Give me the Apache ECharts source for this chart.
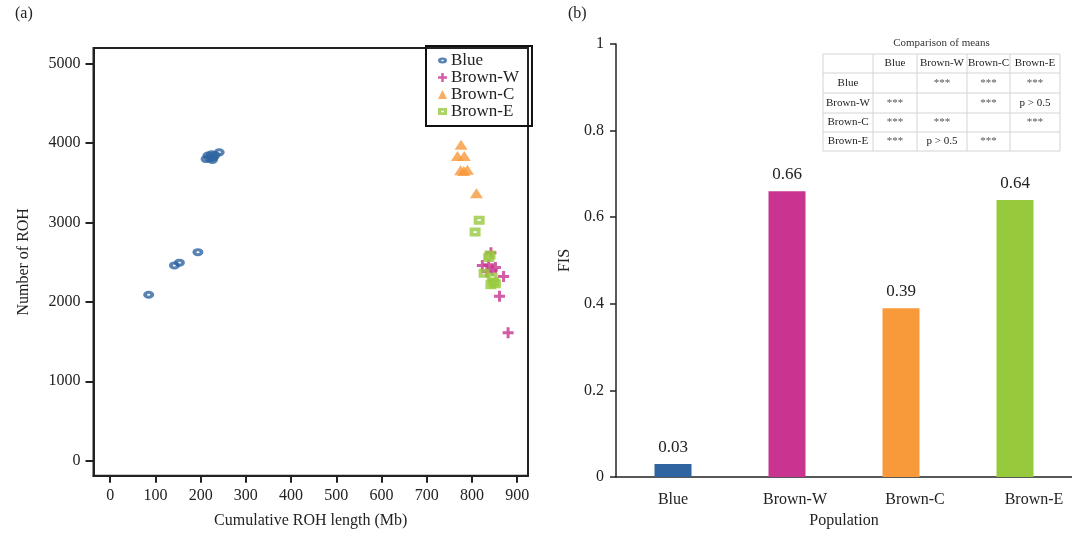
<!DOCTYPE html>
<html>
<head>
<meta charset="utf-8">
<script src="https://cdn.jsdelivr.net/npm/echarts@6/dist/echarts.min.js"></script>
<style>
  html, body { margin: 0; padding: 0; background: #fff; }
  #chart { width: 1072px; height: 536px; }
</style>
</head>
<body>
<div id="chart"></div>
<script>
// ---- Panel (a): cumulative ROH length vs number of ROH ----
const blueROH = [[85, 2090], [142, 2460], [153, 2495], [194, 2627], [212, 3800], [216, 3845], [220, 3810], [224, 3860], [228, 3820], [232, 3850], [226, 3790], [241, 3885]];
const brownWROH = [[842, 2620], [837, 2470], [823, 2460], [852, 2435], [845, 2400], [833, 2380], [870, 2320], [861, 2070], [880, 1612]];
const brownCROH = [[776, 3980], [768, 3840], [783, 3840], [775, 3660], [782, 3650], [790, 3665], [810, 3370]];
const brownEROH = [[816, 3030], [807, 2880], [840, 2590], [837, 2560], [827, 2360], [845, 2310], [848, 2250], [842, 2215], [852, 2230]];
const lengthTicks = [0, 100, 200, 300, 400, 500, 600, 700, 800, 900];
const countTicks = [0, 1000, 2000, 3000, 4000, 5000];

// ---- Panel (b): FIS per population ----
const populations = ['Blue', 'Brown-W', 'Brown-C', 'Brown-E'];
const fisValues = [0.03, 0.66, 0.39, 0.64];

// ---- Comparison-of-means table ----
const tableTitle = 'Comparison of means';
const tableHeader = ['', 'Blue', 'Brown-W', 'Brown-C', 'Brown-E'];
const tableRows = [
  ['Blue', '', '***', '***', '***'],
  ['Brown-W', '***', '', '***', 'p > 0.5'],
  ['Brown-C', '***', '***', '', '***'],
  ['Brown-E', '***', 'p > 0.5', '***', '']
];

const colors = { blue: '#2e64a0', w: '#c8348f', c: '#f8993a', e: '#97c93d' };
const FONT = "'Liberation Serif', 'DejaVu Serif', serif";
const INK = '#222';

// marker outlines: thick ring, bold plus, triangle, square with a slit
const ringPath = 'path://M0,4a6,4 0 1,0 12,0a6,4 0 1,0 -12,0zM4.2,4a1.8,1 0 1,1 3.6,0a1.8,1 0 1,1 -3.6,0z';
const plusPath = 'path://M4,0H7V4H11V7H7V11H4V7H0V4H4Z';
const boxPath = 'path://M0,0H10V8H0ZM3.5,3.2V4.8H6.5V3.2Z';

// table layout
const colEdges = [823, 873, 917, 967, 1010, 1060];
const rowEdges = [54, 73, 93, 113, 132, 151];
const tableGraphics = [];
tableGraphics.push({
  type: 'text', x: (colEdges[0] + colEdges[colEdges.length - 1]) / 2, y: 43,
  style: { text: tableTitle, font: '11px ' + FONT, fill: '#333', align: 'center', verticalAlign: 'middle' }
});
rowEdges.forEach(function (y) {
  tableGraphics.push({ type: 'line', shape: { x1: colEdges[0], y1: y, x2: colEdges[colEdges.length - 1], y2: y }, style: { stroke: '#d4d4d4', lineWidth: 1 } });
});
colEdges.forEach(function (x) {
  tableGraphics.push({ type: 'line', shape: { x1: x, y1: rowEdges[0], x2: x, y2: rowEdges[rowEdges.length - 1] }, style: { stroke: '#d4d4d4', lineWidth: 1 } });
});
[tableHeader].concat(tableRows).forEach(function (row, r) {
  row.forEach(function (cell, c) {
    if (!cell) return;
    tableGraphics.push({
      type: 'text',
      x: (colEdges[c] + colEdges[c + 1]) / 2,
      y: (rowEdges[r] + rowEdges[r + 1]) / 2,
      style: { text: cell, font: '11px ' + FONT, fill: cell === '***' ? '#555' : '#222', align: 'center', verticalAlign: 'middle' }
    });
  });
});

// category label nudges (px of left padding per category)
const labelPad = [0, 16, 28, 38];

const chart = echarts.init(document.getElementById('chart'), null, { renderer: 'canvas' });
chart.setOption({
  animation: false,
  backgroundColor: '#fff',
  textStyle: { fontFamily: FONT },
  graphic: [
    { type: 'text', left: 15, top: 6, style: { text: '(a)', font: '16px ' + FONT, fill: INK } },
    { type: 'text', left: 568, top: 6, style: { text: '(b)', font: '16px ' + FONT, fill: INK } }
  ].concat(tableGraphics),
  legend: {
    data: ['Blue', 'Brown-W', 'Brown-C', 'Brown-E'],
    orient: 'vertical',
    left: 426, top: 46,
    padding: [6, 13, 6, 12],
    itemGap: 0,
    itemWidth: 9, itemHeight: 9,
    borderColor: '#111', borderWidth: 2,
    textStyle: { fontFamily: FONT, fontSize: 17, color: INK, lineHeight: 16, padding: [0, 0, 0, -1] }
  },
  grid: [
    { left: 93.5, top: 48, width: 434.5, height: 427.7, show: true, borderColor: INK, borderWidth: 2, backgroundColor: 'transparent' },
    { left: 616, top: 44, width: 460, height: 433 }
  ],
  xAxis: [
    {
      gridIndex: 0, type: 'value', min: -37, max: 924,
      name: 'Cumulative ROH length (Mb)', nameLocation: 'middle', nameGap: 37,
      nameTextStyle: { fontFamily: FONT, fontSize: 16, color: INK },
      axisLine: { show: true, onZero: false, lineStyle: { color: INK, width: 2 } },
      axisTick: { show: true, customValues: lengthTicks, length: 7, lineStyle: { color: INK, width: 2 } },
      axisLabel: { customValues: lengthTicks, margin: 12, fontFamily: FONT, fontSize: 16, color: INK, formatter: function (v) { return String(v); } },
      splitLine: { show: false }
    },
    {
      gridIndex: 1, type: 'category', data: populations,
      name: 'Population', nameLocation: 'middle', nameGap: 36,
      nameTextStyle: { fontFamily: FONT, fontSize: 16, color: INK },
      axisLine: { show: true, onZero: false, lineStyle: { color: INK, width: 1.5 } },
      axisTick: { show: false },
      axisLabel: {
        interval: 0, margin: 15, fontFamily: FONT, fontSize: 16, color: INK,
        formatter: function (v, i) { return '{p' + i + '|' + v + '}'; },
        rich: {
          p0: { padding: [0, 0, 0, labelPad[0]], fontFamily: FONT, fontSize: 16, color: INK },
          p1: { padding: [0, 0, 0, labelPad[1]], fontFamily: FONT, fontSize: 16, color: INK },
          p2: { padding: [0, 0, 0, labelPad[2]], fontFamily: FONT, fontSize: 16, color: INK },
          p3: { padding: [0, 0, 0, labelPad[3]], fontFamily: FONT, fontSize: 16, color: INK }
        }
      }
    }
  ],
  yAxis: [
    {
      gridIndex: 0, type: 'value', min: -190, max: 5200,
      name: 'Number of ROH', nameLocation: 'middle', nameGap: 62, nameRotate: 90,
      nameTextStyle: { fontFamily: FONT, fontSize: 16, color: INK },
      axisLine: { show: true, onZero: false, lineStyle: { color: INK, width: 2 } },
      axisTick: { show: true, customValues: countTicks, length: 8, lineStyle: { color: INK, width: 2 } },
      axisLabel: { customValues: countTicks, margin: 13, fontFamily: FONT, fontSize: 16, color: INK, formatter: function (v) { return String(v); } },
      splitLine: { show: false }
    },
    {
      gridIndex: 1, type: 'value', min: 0, max: 1, interval: 0.2,
      name: 'FIS', nameLocation: 'middle', nameGap: 43, nameRotate: 90,
      nameTextStyle: { fontFamily: FONT, fontSize: 16, color: INK },
      axisLine: { show: true, onZero: false, lineStyle: { color: INK, width: 1.5 } },
      axisTick: { show: true, length: 6, lineStyle: { color: INK, width: 1.5 } },
      axisLabel: { margin: 12, fontFamily: FONT, fontSize: 16, color: INK, formatter: function (v) { return String(+v.toFixed(1)); } },
      splitLine: { show: false }
    }
  ],
  series: [
    {
      name: 'Blue', type: 'scatter', xAxisIndex: 0, yAxisIndex: 0, data: blueROH,
      symbol: ringPath, symbolSize: [11, 8],
      itemStyle: { color: colors.blue }
    },
    {
      name: 'Brown-W', type: 'scatter', xAxisIndex: 0, yAxisIndex: 0, data: brownWROH,
      symbol: plusPath, symbolSize: 11,
      itemStyle: { color: colors.w }
    },
    {
      name: 'Brown-C', type: 'scatter', xAxisIndex: 0, yAxisIndex: 0, data: brownCROH,
      symbol: 'triangle', symbolSize: [13, 10],
      itemStyle: { color: colors.c }
    },
    {
      name: 'Brown-E', type: 'scatter', xAxisIndex: 0, yAxisIndex: 0, data: brownEROH,
      symbol: boxPath, symbolSize: [11, 9],
      itemStyle: { color: colors.e }
    },
    {
      name: 'FIS', type: 'bar', xAxisIndex: 1, yAxisIndex: 1,
      data: fisValues.map(function (v, i) {
        return { value: v, itemStyle: { color: [colors.blue, colors.w, colors.c, colors.e][i] } };
      }),
      barWidth: 37,
      label: {
        show: true, position: 'top', distance: 8,
        fontFamily: FONT, fontSize: 17, color: INK,
        formatter: function (p) { return p.value.toFixed(2); }
      }
    }
  ]
});
</script>
</body>
</html>
